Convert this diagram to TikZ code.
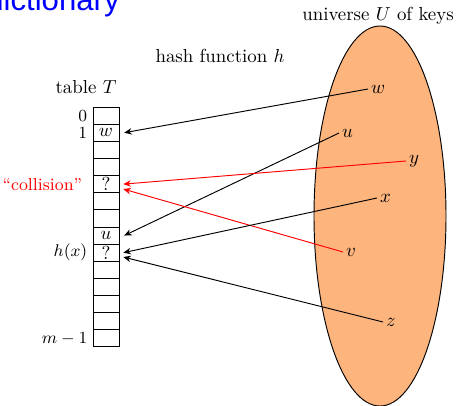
\documentclass[tikz,border=0pt]{standalone}
\usepackage{fontspec}
\newfontfamily\titlefont{Liberation Sans}
\usetikzlibrary{arrows.meta}
\definecolor{peach}{RGB}{253,180,125}
\begin{document}
\begin{tikzpicture}[x=0.53pt,y=-0.53pt,
  cell/.style={draw, line width=0.5pt, minimum width=13.8pt, minimum height=9.08pt, inner sep=0pt},
  arr/.style={-{Stealth[length=4pt,width=3.4pt]}, line width=0.5pt},
  keylab/.style={anchor=west, inner sep=1.5pt},
  idx/.style={anchor=east, inner sep=2.6pt, font=\fontsize{9}{11}\selectfont}]
\useasboundingbox (0,0) rectangle (458,405);
% title
\node[anchor=base west, inner sep=0pt, text=blue, font=\titlefont\fontsize{16.5}{18}\selectfont] (title) at (-14,10) {dictionary};
% universe
\draw[fill=peach, line width=0.5pt] (380,216) ellipse [x radius=66, y radius=190];
\node (univ) at (378,16) {universe $U$ of keys};
\node (hash) at (220,56) {hash function $h$};
\node (tabT) at (86,87) {table $T$};
% table
\foreach \i in {0,...,13}
  \node[cell] (c\i) at (106,{107+(\i+0.5)*17.14}) {};
\node (tw) at (c1) {$w$};
\node (tq1) at (c4) {?};
\node (tu) at (c7) {$u$};
\node (tq2) at (c8) {?};
% indices
\node[idx] (i0) at (c0.west) {0};
\node[idx] (i1) at (c1.west) {1};
\node[idx] (ih) at (c8.west) {$h(x)$};
\node[idx] (im) at (c13.west) {$m-1$};
\node[anchor=east, inner sep=0pt, text=red, font=\fontsize{9.2}{11}\selectfont] (coll) at ([xshift=-5.3pt]c4.west) {``collision''};
% keys
\coordinate (kw) at (368,89);
\coordinate (ku) at (339,133);
\coordinate (ky) at (406,161);
\coordinate (kx) at (377,198);
\coordinate (kv) at (343,252);
\coordinate (kz) at (383,322);
\node[keylab] (lw) at (kw) {$w$};
\node[keylab] (lu) at (ku) {$u$};
\node[keylab] (ly) at (ky) {$y$};
\node[keylab] (lx) at (kx) {$x$};
\node[keylab] (lv) at (kv) {$v$};
\node[keylab] (lz) at (kz) {$z$};
% arrows
\draw[arr] (kw) -- ([xshift=2.5pt]c1.east);
\draw[arr] (ku) -- ([xshift=2.5pt]c7.east);
\draw[arr, red] (ky) -- ([xshift=2pt]c4.east);
\draw[arr, red] (kv) -- ([xshift=2pt,yshift=-2.6pt]c4.east);
\draw[arr] (kx) -- ([xshift=2pt]c8.east);
\draw[arr] (kz) -- ([xshift=2pt,yshift=-2.3pt]c8.east);
\end{tikzpicture}
\end{document}
